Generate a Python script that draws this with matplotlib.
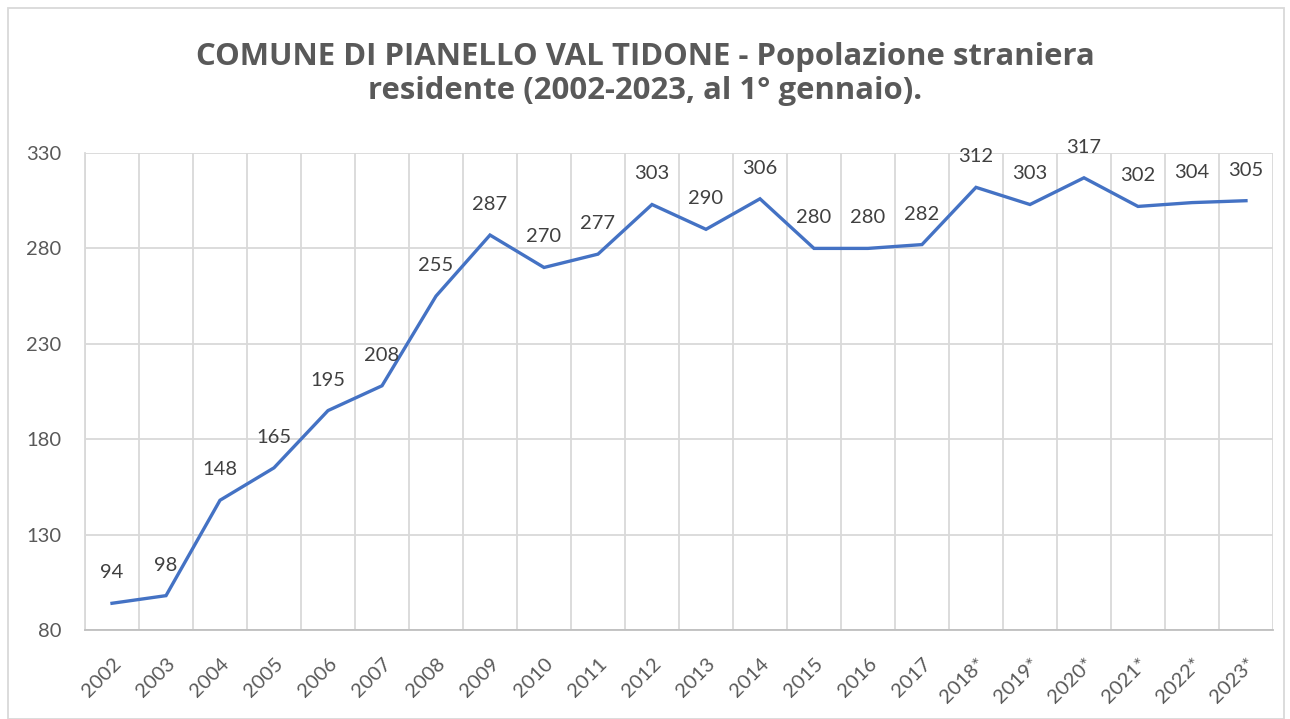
import numpy as np
import matplotlib.pyplot as plt
from matplotlib.patches import Rectangle

plt.rcParams['font.family'] = ['Lato', 'DejaVu Sans']

years = ['2002', '2003', '2004', '2005', '2006', '2007', '2008', '2009', '2010', '2011',
         '2012', '2013', '2014', '2015', '2016', '2017', '2018*', '2019*', '2020*', '2021*',
         '2022*', '2023*']
stranieri = [94, 98, 148, 165, 195, 208, 255, 287, 270, 277,
             303, 290, 306, 280, 280, 282, 312, 303, 317, 302, 304, 305]
y_ticks = [80, 130, 180, 230, 280, 330]

text_col = '#595959'
grid_col = '#D9D9D9'

fig = plt.figure(figsize=(12.9, 7.19), dpi=100)
ax = fig.add_axes([0.0659, 0.1238, 0.9209, 0.6634])

x = np.arange(len(years))
ax.plot(x, stranieri, color='#4472C4', linewidth=2.4, solid_joinstyle='miter')

for xi, v in zip(x, stranieri):
    ax.annotate(str(v), (xi, v), xytext=(0, 22), textcoords='offset points',
                ha='center', va='center', fontsize=14.5, color='#404040')

ax.set_xlim(-0.5, len(years) - 0.5)
ax.set_ylim(80, 330)
ax.set_yticks(y_ticks)
ax.set_yticklabels([str(t) for t in y_ticks], fontsize=14.5, color=text_col)
ax.set_xticks(x)
ax.set_xticklabels(years, fontsize=14.5, color=text_col, rotation=45,
                   ha='right', rotation_mode='anchor')
ax.set_xticks(np.arange(-0.5, len(years), 1), minor=True)
ax.tick_params(axis='both', which='both', length=0)
ax.tick_params(axis='x', pad=18)
ax.tick_params(axis='y', pad=17)
ax.grid(axis='y', which='major', color=grid_col, linewidth=1.3)
ax.grid(axis='x', which='minor', color=grid_col, linewidth=1.3)
ax.set_axisbelow(True)
for s in ['top', 'right']:
    ax.spines[s].set_visible(False)
ax.spines['left'].set_color(grid_col)
ax.spines['bottom'].set_color('#BFBFBF')
ax.spines['left'].set_linewidth(1.3)
ax.spines['bottom'].set_linewidth(1.3)

fig.text(0.5, 0.897, 'COMUNE DI PIANELLO VAL TIDONE - Popolazione straniera\nresidente (2002-2023, al 1° gennaio).',
         ha='center', va='center', fontsize=22.4, fontweight='bold', color=text_col,
         linespacing=1.15, family=['Open Sans', 'DejaVu Sans'])

fig.patches.append(Rectangle((8 / 1290, 0), 1276 / 1290, 711 / 719, transform=fig.transFigure,
                             fill=False, edgecolor=grid_col, linewidth=1.3))

fig.savefig('out.png', dpi=100)
